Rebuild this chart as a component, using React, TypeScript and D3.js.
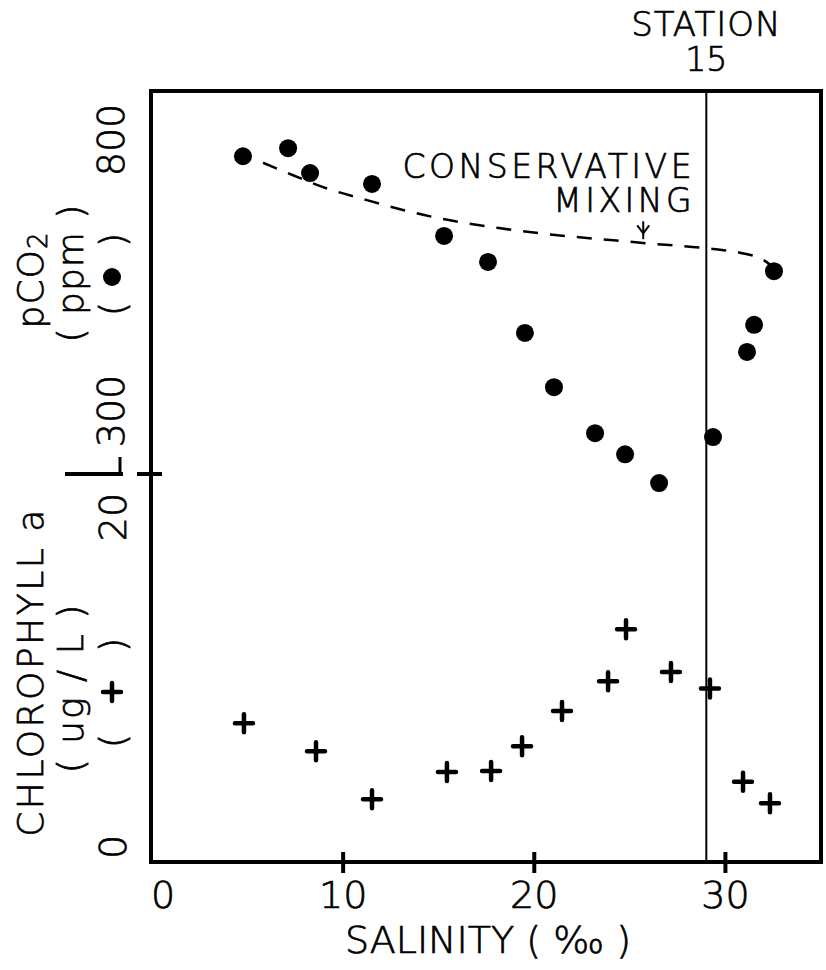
import React from "react";
import * as d3 from "d3";

// ---- data ----
const pco2Salinity = [4.76, 7.12, 8.27, 11.51, 15.28, 17.58, 19.51, 21.03, 23.18, 24.75, 26.53, 29.35, 31.13, 31.5, 32.54];
const pco2Values = [770, 785, 739, 719, 623, 575, 444, 344, 259, 220, 167, 252, 409, 459, 558];

const chlSalinity = [4.81, 8.58, 11.51, 15.43, 17.74, 19.36, 21.45, 23.86, 24.8, 27.15, 29.19, 30.92, 32.33];
const chlValues = [7.5, 5.8, 2.9, 4.55, 4.6, 6.1, 8.25, 10.05, 13.2, 10.6, 9.6, 3.95, 2.65];

const mixSalinity = [5.81, 7.38, 8.95, 11.25, 13.13, 14.96, 18.05, 25.69, 29.35, 30.76, 31.97, 32.54];
const mixValues = [758, 735, 713, 689, 671, 656, 638, 610, 599, 592, 579, 564];

const xTicks = [0, 10, 20, 30];
const pco2Ticks = [300, 800];
const chlTicks = [0, 20];
const stationSalinity = 29;

const FONT = "'DejaVu Sans', sans-serif";

export default function App() {
  const W = 826, H = 970;
  const left = 151, right = 821, top = 91, bottom = 862;

  const x = d3.scaleLinear().domain([0, 35]).range([152, 821]);
  const yP = d3.scaleLinear().domain([300, 800]).range([411, 140]);
  const yC = d3.scaleLinear().domain([0, 20]).range([847, 517]);

  const mixLine = d3
    .line<number>()
    .x((_, i) => x(mixSalinity[i]))
    .y((d) => yP(d))
    .curve(d3.curveMonotoneX)(mixValues) as string;

  const xs = x(stationSalinity);
  const textStyle = { fontFamily: FONT, fontWeight: 200, fill: "#000", stroke: "#000", strokeWidth: 0.7 } as const;
  const arrowX = x(25.7);
  const arrowTop = yP(650);
  const arrowBot = yP(617);
  const dividerY = 474;

  const rot = (cx: number, cy: number) => `translate(${cx},${cy}) rotate(-90)`;
  const rt = (cx: number, cy: number, s: string, fs: number, ls = 0, key?: string) => (
    <text key={key} transform={rot(cx, cy)} textAnchor="middle" dominantBaseline="central" fontSize={fs} letterSpacing={ls} {...textStyle}>
      {s}
    </text>
  );

  return (
    <svg width={W} height={H} style={{ position: "absolute", left: 0, top: 0, background: "#fff" }}>
      <rect x={0} y={0} width={W} height={H} fill="#fff" />
      {/* frame */}
      <rect x={left} y={top} width={right - left} height={bottom - top} fill="none" stroke="#000" strokeWidth={4} />
      {/* station line */}
      <line x1={xs} x2={xs} y1={top} y2={bottom} stroke="#000" strokeWidth={2} />
      {/* x ticks */}
      {xTicks.filter((t) => t > 0).map((t) => (
        <line key={t} x1={x(t)} x2={x(t)} y1={bottom - 10} y2={bottom + 11} stroke="#000" strokeWidth={4} />
      ))}
      {xTicks.map((t) => (
        <text key={"l" + t} x={x(t) + (t === 0 ? 11 : 0)} y={908} textAnchor="middle" fontSize={38} {...textStyle}>
          {t}
        </text>
      ))}
      <text x={488} y={953} textAnchor="middle" fontSize={38} {...textStyle}>
        SALINITY ( ‰ )
      </text>

      {/* station label */}
      <text x={xs} y={36} textAnchor="middle" fontSize={34} letterSpacing={1} {...textStyle}>STATION</text>
      <text x={xs} y={71} textAnchor="middle" fontSize={33} {...textStyle}>15</text>

      {/* left axis divider */}
      <line x1={65} x2={123} y1={dividerY} y2={dividerY} stroke="#000" strokeWidth={4} />
      <line x1={120} x2={120} y1={457} y2={dividerY} stroke="#000" strokeWidth={3} />
      <line x1={137} x2={162} y1={dividerY} y2={dividerY} stroke="#000" strokeWidth={4} />

      {/* tick labels */}
      {pco2Ticks.map((t) => rt(111, yP(t), String(t), 38, 0, "p" + t))}
      {chlTicks.map((t) => rt(113, yC(t), String(t), 38, 0, "c" + t))}

      {/* pCO2 axis title */}
      <text transform={rot(30, 280)} textAnchor="middle" dominantBaseline="central" fontSize={36} letterSpacing={1} {...textStyle}>
        pCO<tspan fontSize={26} dy={8}>2</tspan>
      </text>
      {rt(70, 273, "( ppm )", 36, 1)}
      {rt(112, 309, "(", 36)}
      {rt(112, 240, ")", 36)}
      <circle cx={112} cy={277} r={9} fill="#000" />

      {/* chlorophyll axis title */}
      {rt(30, 672, "CHLOROPHYLL a", 36, 2.5)}
      {rt(70, 688, "( ug / L )", 36, 2)}
      {rt(112, 741, "(", 36)}
      {rt(112, 645, ")", 36)}
      <path transform="translate(112,692)" d="M-9,0H9M0,-9V9" stroke="#000" strokeWidth={4.5} strokeLinecap="round" />

      {/* conservative mixing line */}
      <path d={mixLine} fill="none" stroke="#000" strokeWidth={2.5} strokeDasharray="15 12" />
      <text x={695} y={178} textAnchor="end" fontSize={33} letterSpacing={3.5} {...textStyle}>CONSERVATIVE</text>
      <text x={695} y={212} textAnchor="end" fontSize={33} letterSpacing={3.5} {...textStyle}>MIXING</text>
      <line x1={arrowX} x2={arrowX} y1={arrowTop} y2={arrowBot} stroke="#000" strokeWidth={2} />
      <path d={`M${arrowX - 6},${arrowTop + 4}L${arrowX},${arrowTop + 12}L${arrowX + 6},${arrowTop + 4}`} fill="none" stroke="#000" strokeWidth={2} />

      {/* pCO2 dots */}
      {pco2Values.map((v, i) => (
        <circle key={"d" + i} cx={x(pco2Salinity[i])} cy={yP(v)} r={9} fill="#000" />
      ))}
      {/* chlorophyll crosses */}
      {chlValues.map((v, i) => (
        <path
          key={"x" + i}
          transform={`translate(${x(chlSalinity[i])},${yC(v)})`}
          d="M-9,0H9M0,-9V9"
          stroke="#000"
          strokeWidth={4.5}
          strokeLinecap="round"
        />
      ))}
    </svg>
  );
}
